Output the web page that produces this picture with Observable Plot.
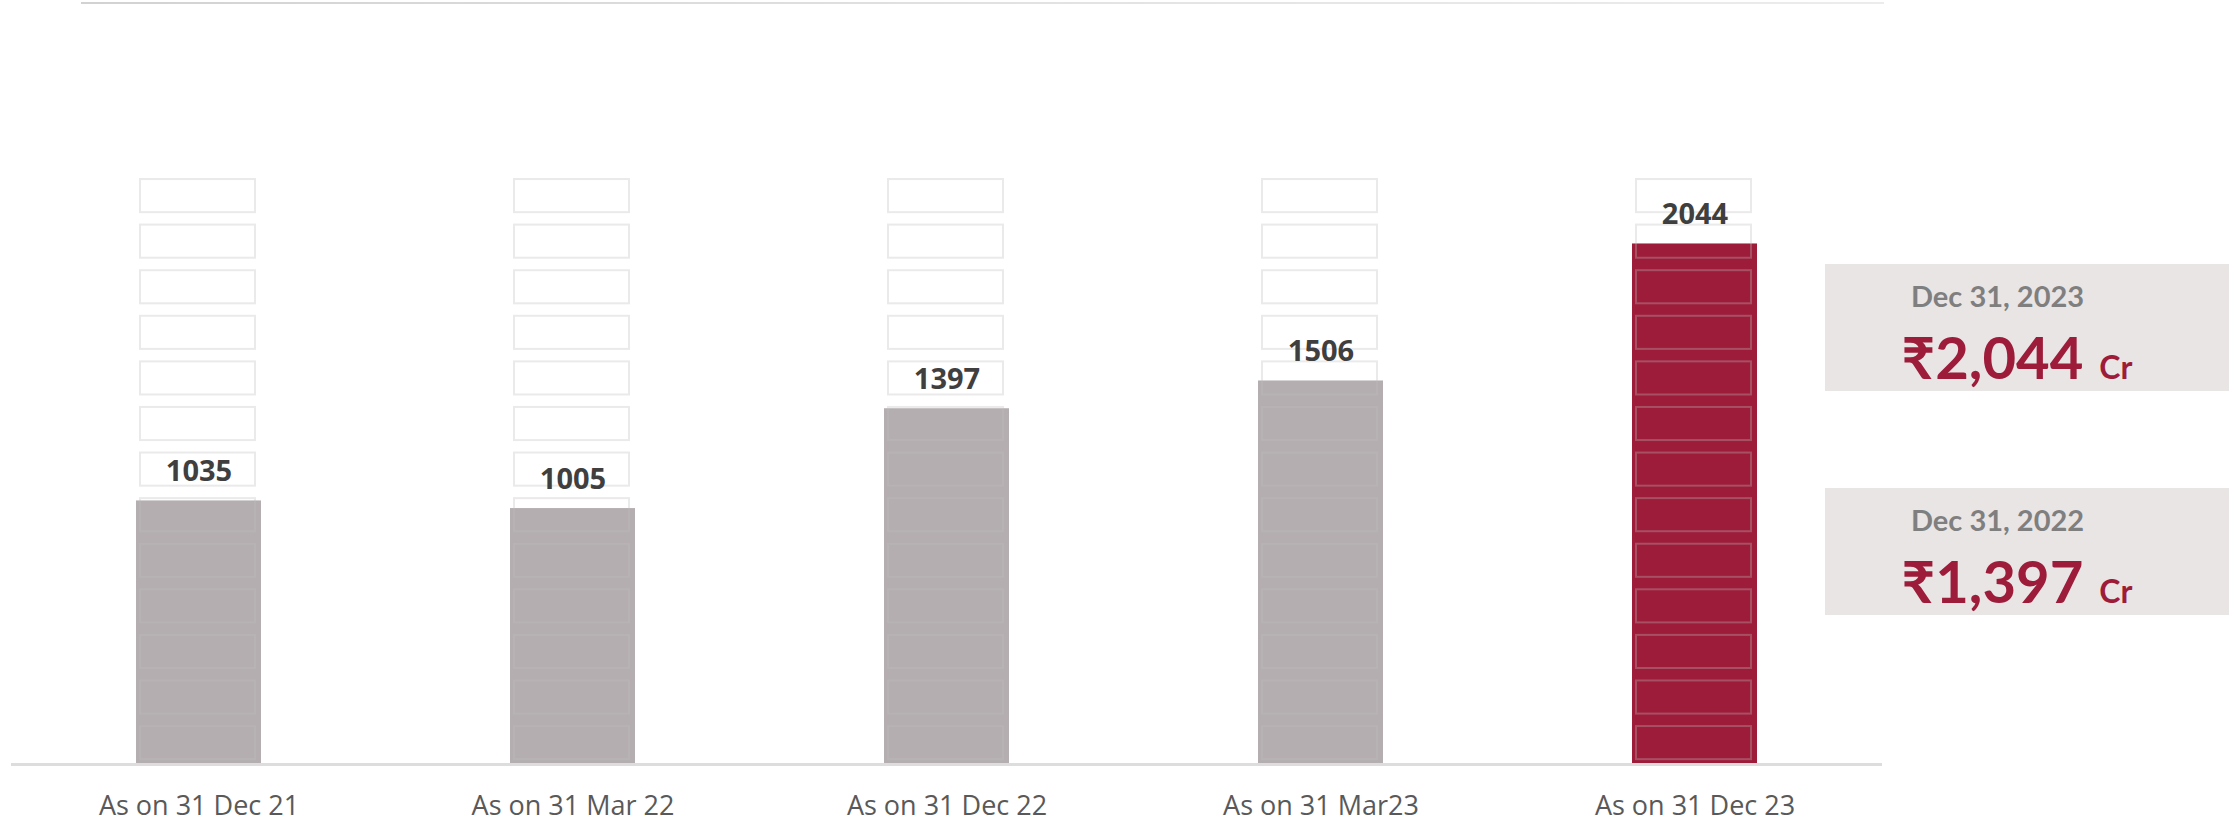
<!DOCTYPE html>
<html>
<head>
<meta charset="utf-8">
<script src="https://cdn.jsdelivr.net/npm/d3@7"></script>
<script src="https://cdn.jsdelivr.net/npm/@observablehq/plot@0.6"></script>
<style>
  html, body { margin: 0; padding: 0; background: #ffffff; overflow: hidden; }
  #wrap { position: relative; width: 2238px; height: 826px; }
  #topline { position: absolute; left: 81px; top: 2px; width: 1803px; height: 2px;
             background: linear-gradient(to right, #d2d2d2, #e4e4e4 60%, #ececec); }
  .panel { position: absolute; left: 1825px; width: 404px; height: 127px; background: #e9e5e5;
           font-family: "Lato", "Noto Sans", "DejaVu Sans", sans-serif; font-weight: 700; }
  .panel .date { position: absolute; left: 86px; top: 17px; font-size: 29px; line-height: 1; color: #7f7f80; white-space: nowrap; }
  .panel .val { position: absolute; left: 0; width: 384px; top: 64px; font-size: 58px; line-height: 1; color: #9d1c3a; text-align: center; white-space: nowrap; }
  .panel .val span { font-size: 32px; margin-left: 16px; }
</style>
</head>
<body>
<div id="wrap"><div id="topline"></div></div>
<script>
// ---- data ----
const categories = ["As on 31 Dec 21", "As on 31 Mar 22", "As on 31 Dec 22", "As on 31 Mar23", "As on 31 Dec 23"];
const values = [1035, 1005, 1397, 1506, 2044];
const highlighted = [false, false, false, false, true];
const panelDates = ["Dec 31, 2023", "Dec 31, 2022"];
const panelValues = ["₹2,044", "₹1,397"];
const panelUnit = "Cr";

// decorative placeholder slots (value units)
const slotCount = 13, slotStep = 179, slotHeight = 130, slotBase = 19;

const GRAY = "#b4aeb0", RED = "#9d1c3a";

const data = categories.map((c, i) => ({category: c, value: values[i], fill: highlighted[i] ? RED : GRAY}));
const slots = categories.flatMap(c => d3.range(slotCount).map(k => ({
  category: c, y1: slotBase + k * slotStep, y2: slotBase + k * slotStep + slotHeight
})));

const chart = Plot.plot({
  width: 2238,
  height: 826,
  marginTop: 0,
  marginBottom: 62,
  marginLeft: 11,
  marginRight: 356,
  style: {fontFamily: "'Open Sans', 'Noto Sans', sans-serif", fontSize: "27px", color: "#595959", background: "transparent"},
  x: {domain: categories, paddingInner: 0.666, paddingOuter: 0.333, label: null},
  y: {domain: [0, 3000], axis: null},
  color: {type: "identity"},
  marks: [
    Plot.barY(data, {x: "category", y: "value", fill: "fill"}),
    Plot.rect(slots, {x: "category", y1: "y1", y2: "y2", fill: "none", stroke: "rgb(190,190,190)",
      strokeOpacity: 0.32, strokeWidth: 2, insetLeft: 4, insetRight: 6}),
    Plot.ruleY([0], {stroke: "#dddddd", strokeWidth: 3}),
    Plot.text(data, {x: "category", y: "value", text: d => String(d.value), dy: -20, lineAnchor: "bottom",
      fontSize: 29, fontWeight: 700, fill: "#3f3f3f"}),
    Plot.axisX({tickSize: 0, tickPadding: 31, fontSize: 27, fill: "#595959", fontWeight: 400, label: null})
  ]
});
chart.style.position = "absolute";
chart.style.left = "0px";
chart.style.top = "0px";
const wrap = document.getElementById("wrap");
wrap.insertBefore(chart, wrap.firstChild);

panelDates.forEach((d, i) => {
  const p = document.createElement("div");
  p.className = "panel";
  p.style.top = (264 + i * 224) + "px";
  const dt = document.createElement("div");
  dt.className = "date";
  dt.textContent = d;
  const v = document.createElement("div");
  v.className = "val";
  v.textContent = panelValues[i];
  const u = document.createElement("span");
  u.textContent = panelUnit;
  v.appendChild(u);
  p.appendChild(dt);
  p.appendChild(v);
  wrap.appendChild(p);
});
</script>
</body>
</html>
